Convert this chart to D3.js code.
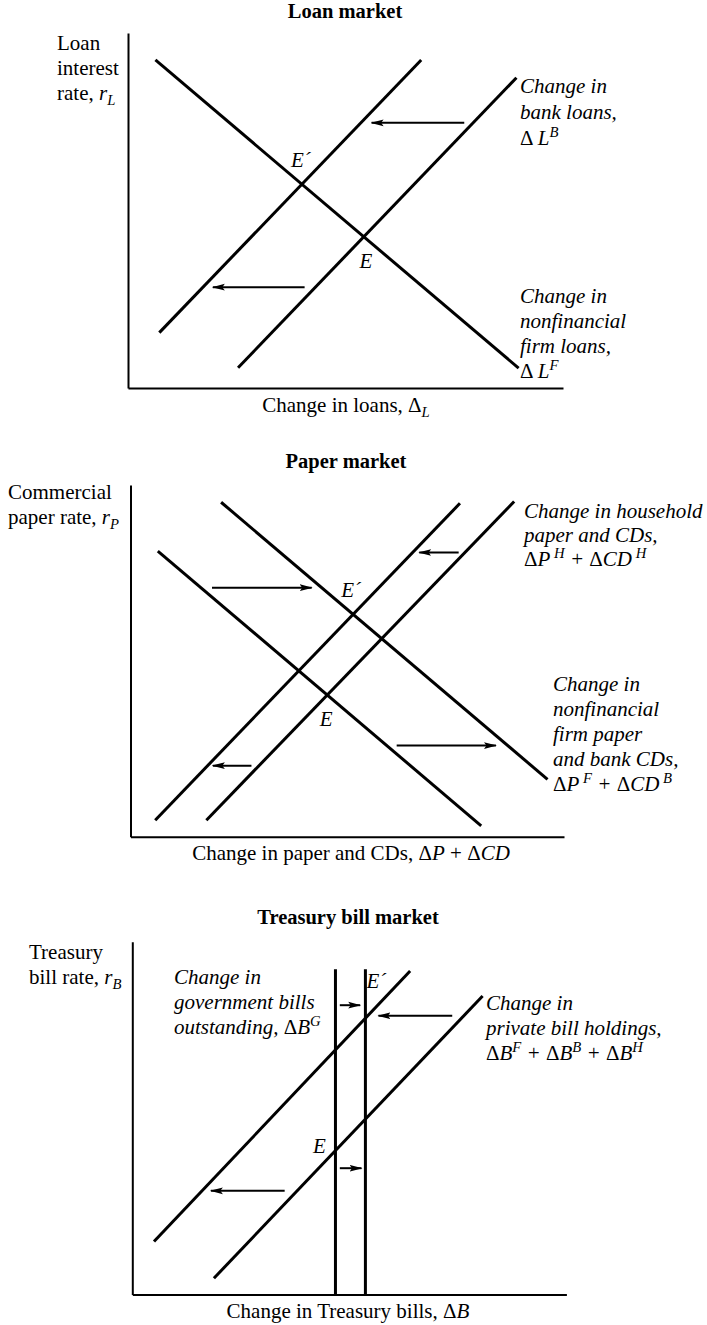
<!DOCTYPE html>
<html>
<head>
<meta charset="utf-8">
<script src="https://cdn.jsdelivr.net/npm/d3@7"></script>
<style>
  html, body { margin: 0; padding: 0; background: #fff; }
  svg { display: block; }
  text { font-family: 'Liberation Serif', 'Times New Roman', serif; fill: #000; white-space: pre; }
</style>
</head>
<body>
<script>
// ---------------- DATA (abstract units 0..100 on each axis) ----------------
// Panel 1: Loan market
const loanTitle = "Loan market";
const loanYLabel = ["Loan", "interest", "rate, *r*_{L}"];
const loanXLabel = "Change in loans, Δ_{L}";
const loanDemand = [[6.3, 92.4], [89.8, 5.6]];          // ΔL^F
const loanSupply = [[25.3, 5.7], [89.3, 87.4]];         // ΔL^B (original)
const loanSupplyShifted = [[7.2, 15.6], [67.4, 92.4]];  // ΔL^B (after shift)
const loanArrows = [[77.3, 56.0, 74.7], [40.6, 19.5, 28.4]]; // [xFrom, xTo, y]
const loanLabelSupply = ["Change in", "bank loans,", "Δ\u2009*L*^{B}"];
const loanLabelDemand = ["Change in", "nonfinancial", "firm loans,", "Δ\u2009*L*^{F}"];

// Panel 2: Paper market
const paperTitle = "Paper market";
const paperYLabel = ["Commercial", "paper rate, *r*_{P}"];
const paperXLabel = "Change in paper and CDs, Δ*P* + Δ*CD*";
const paperDown1 = [[6.3, 81.2], [80.9, 3.1]];
const paperDown2 = [[20.9, 95.1], [96.2, 16.3]];
const paperUp1 = [[5.7, 4.7], [76.0, 94.8]];
const paperUp2 = [[17.5, 4.7], [88.5, 95.3]];
const paperArrows = [[18.8, 41.8, 70.8], [75.7, 66.6, 80.8], [61.4, 84.3, 25.9], [27.9, 19.0, 20.2]];
const paperLabelHouse = ["Change in household", "paper and CDs,", "Δ*P*^{ H} + Δ*CD*^{ H}"];
const paperLabelFirm = ["Change in", "nonfinancial", "firm paper", "and bank CDs,", "Δ*P*^{ F} + Δ*CD*^{ B}"];

// Panel 3: Treasury bill market
const billTitle = "Treasury bill market";
const billYLabel = ["Treasury", "bill rate, *r*_{B}"];
const billXLabel = "Change in Treasury bills, Δ*B*";
const billGov1 = [[46.8, 0], [46.8, 92.2]];
const billGov2 = [[53.7, 0], [53.7, 92.2]];
const billPriv1 = [[5.0, 15.0], [64.0, 91.7]];
const billPriv2 = [[18.8, 4.6], [80.7, 84.6]];
const billArrows = [[47.8, 52.5, 82.0], [73.7, 56.7, 79.0], [47.8, 52.8, 35.8], [35.1, 18.1, 29.4]];
const billLabelGov = ["Change in", "government bills", "outstanding, Δ*B*^{G}"];
const billLabelPriv = ["Change in", "private bill holdings,", "Δ*B*^{F} + Δ*B*^{B} + Δ*B*^{H}"];

// ---------------- RENDER ----------------
const W = 707, H = 1325;
const FS = 21;
const svg = d3.select("body").append("svg").attr("width", W).attr("height", H);

svg.append("defs").append("marker")
  .attr("id", "ah").attr("viewBox", "0 0 13 8").attr("refX", 12).attr("refY", 4)
  .attr("markerUnits", "userSpaceOnUse").attr("markerWidth", 13).attr("markerHeight", 8)
  .attr("orient", "auto")
  .append("path").attr("d", "M0,0.6 L13,4 L0,7.4 L2.5,4 Z").attr("fill", "#000");

function rich(g, str, x, y, opts = {}) {
  const t = g.append("text").attr("x", x).attr("y", y)
    .attr("font-size", opts.size || FS)
    .attr("font-style", opts.italic ? "italic" : "normal")
    .attr("font-weight", opts.bold ? "bold" : "normal")
    .attr("text-anchor", opts.anchor || "start");
  const parts = str.split(/(_\{[^}]*\}|\^\{[^}]*\}|\*[^*]*\*|Δ)/).filter(s => s.length);
  let cur = 0;
  const base = opts.size || FS;
  parts.forEach(p => {
    let target = 0, txt = p, style = null, size = null;
    if (p.startsWith("_{")) { target = 5; txt = p.slice(2, -1); style = "italic"; size = base * 0.7; }
    else if (p.startsWith("^{")) { target = -8; txt = p.slice(2, -1); style = "italic"; size = base * 0.7; }
    else if (p.startsWith("*")) { txt = p.slice(1, -1); style = "italic"; }
    else if (p === "Δ") { style = "normal"; }
    const ts = t.append("tspan").text(txt);
    if (target - cur !== 0) ts.attr("dy", target - cur);
    cur = target;
    if (style) ts.attr("font-style", style);
    if (size) ts.attr("font-size", size);
  });
  return t;
}

function block(g, lines, x, y0, step, opts) {
  lines.forEach((l, i) => rich(g, l, x, y0 + i * step, opts));
}

function intersect(a, b) {
  const [[x1, y1], [x2, y2]] = a, [[x3, y3], [x4, y4]] = b;
  const d = (x1 - x2) * (y3 - y4) - (y1 - y2) * (x3 - x4);
  const t = ((x1 - x3) * (y3 - y4) - (y1 - y3) * (x3 - x4)) / d;
  return [x1 + t * (x2 - x1), y1 + t * (y2 - y1)];
}

function panel(cfg) {
  const g = svg.append("g");
  const x = d3.scaleLinear().domain([0, 100]).range([cfg.x0, cfg.x1]);
  const y = d3.scaleLinear().domain([0, 100]).range([cfg.yb, cfg.yt]);
  const ax = g.append("g").attr("transform", `translate(0,${cfg.yb})`)
    .call(d3.axisBottom(x).tickValues([]).tickSizeOuter(0));
  const ay = g.append("g").attr("transform", `translate(${cfg.x0},0)`)
    .call(d3.axisLeft(y).tickValues([]).tickSizeOuter(0));
  [ax, ay].forEach(a => a.select(".domain").attr("stroke", "#000").attr("stroke-width", 2));
  const line = d3.line().x(d => x(d[0])).y(d => y(d[1]));
  g.selectAll("path.curve").data(cfg.curves).join("path").attr("class", "curve")
    .attr("d", line).attr("fill", "none").attr("stroke", "#000")
    .attr("stroke-width", 3).attr("stroke-linecap", "butt");
  g.selectAll("line.arrow").data(cfg.arrows).join("line").attr("class", "arrow")
    .attr("x1", d => x(d[0])).attr("x2", d => x(d[1]))
    .attr("y1", d => y(d[2])).attr("y2", d => y(d[2]))
    .attr("stroke", "#000").attr("stroke-width", 2).attr("marker-end", "url(#ah)");
  rich(g, cfg.title, cfg.titleX, cfg.titleY, { bold: true, anchor: "middle", size: 20.5 });
  block(g, cfg.yLabel, cfg.yLabelX, cfg.yLabelY, 25, {});
  rich(g, cfg.xLabel, cfg.xLabelX, cfg.xLabelY, { anchor: "middle" });
  cfg.eq.forEach(e => {
    const p = intersect(e.a, e.b);
    rich(g, e.text, x(p[0]) + e.dx, y(p[1]) + e.dy, { italic: true, anchor: "middle" });
  });
  cfg.blocks.forEach(b => block(g, b.lines, b.x, b.y, b.step, { italic: true }));
}

panel({
  x0: 128, x1: 563, yb: 388, yt: 33,
  curves: [loanDemand, loanSupply, loanSupplyShifted],
  arrows: loanArrows,
  title: loanTitle, titleX: 345, titleY: 18,
  yLabel: loanYLabel, yLabelX: 57, yLabelY: 50,
  xLabel: loanXLabel, xLabelX: 346, xLabelY: 412,
  eq: [
    { a: loanDemand, b: loanSupplyShifted, text: "E´", dx: -1, dy: -17 },
    { a: loanDemand, b: loanSupply, text: "E", dx: 2, dy: 31 }
  ],
  blocks: [
    { lines: loanLabelSupply, x: 520, y: 93, step: 26 },
    { lines: loanLabelDemand, x: 520, y: 303, step: 25 }
  ]
});

panel({
  x0: 130.5, x1: 564, yb: 836.7, yt: 485,
  curves: [paperDown1, paperDown2, paperUp1, paperUp2],
  arrows: paperArrows,
  title: paperTitle, titleX: 346, titleY: 468,
  yLabel: paperYLabel, yLabelX: 8, yLabelY: 499,
  xLabel: paperXLabel, xLabelX: 351, xLabelY: 860,
  eq: [
    { a: paperUp1, b: paperDown2, text: "E´", dx: -2, dy: -17 },
    { a: paperUp2, b: paperDown1, text: "E", dx: -1, dy: 31 }
  ],
  blocks: [
    { lines: paperLabelHouse, x: 524, y: 518, step: 24 },
    { lines: paperLabelFirm, x: 553, y: 691, step: 25 }
  ]
});

panel({
  x0: 132.3, x1: 566.4, yb: 1294.5, yt: 941.7,
  curves: [billGov1, billGov2, billPriv1, billPriv2],
  arrows: billArrows,
  title: billTitle, titleX: 348, titleY: 924,
  yLabel: billYLabel, yLabelX: 29, yLabelY: 959,
  xLabel: billXLabel, xLabelX: 348, xLabelY: 1318,
  eq: [
    { a: billGov2, b: billPriv1, text: "E´", dx: 11, dy: -30 },
    { a: billGov1, b: billPriv2, text: "E", dx: -16, dy: 2 }
  ],
  blocks: [
    { lines: billLabelGov, x: 174, y: 984, step: 25 },
    { lines: billLabelPriv, x: 486, y: 1010, step: 25 }
  ]
});
</script>
</body>
</html>
